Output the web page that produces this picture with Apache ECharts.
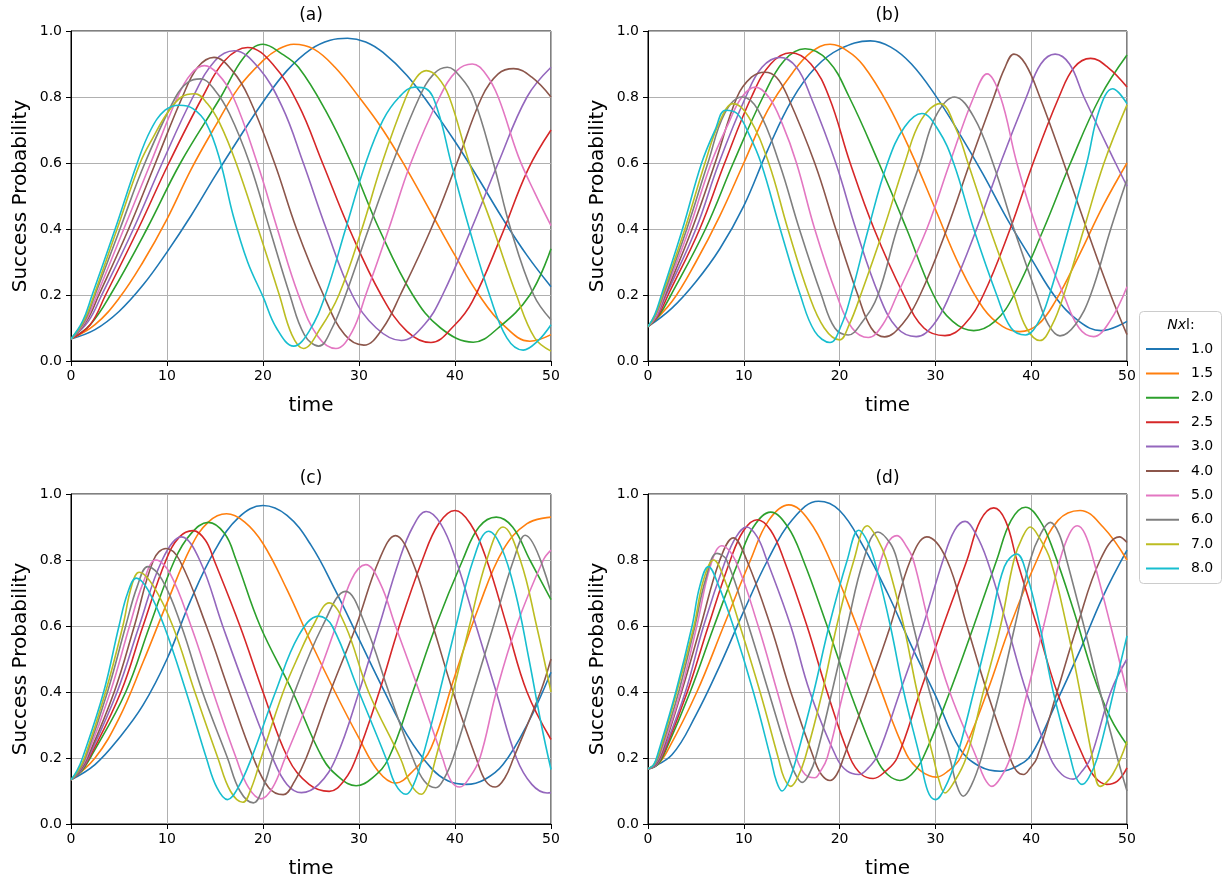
<!DOCTYPE html>
<html><head><meta charset="utf-8">
<script src="https://cdn.jsdelivr.net/npm/echarts@6/dist/echarts.min.js"></script>
<style>html,body{margin:0;padding:0;background:#fff}#c{width:1228px;height:880px}</style>
</head><body><div id="c"></div>
<script>
// ---- data ----
const seriesNames = ['1.0','1.5','2.0','2.5','3.0','4.0','5.0','6.0','7.0','8.0'];
const panelTitles = ['(a)','(b)','(c)','(d)'];
const xTickStep = 10;   // time ticks 0..50
const yTickStep = 0.2;  // probability ticks 0.0..1.0

// each entry: [time, success probability], one list per N_x l value
const panelA = [
 [[0,.067],[2.5,.095],[5,.15],[7.5,.23],[10,.33],[12.5,.44],[15,.56],[17.5,.675],[20,.785],[22.5,.88],[25,.945],[27,.972],[28.8,.978],[30.7,.967],[32.5,.935],[35,.865],[37.5,.77],[40,.665],[42.5,.55],[45,.43],[47.5,.32],[50,.225]],
 [[0,.067],[2.5,.11],[5,.19],[7.5,.3],[10,.43],[12.5,.58],[15,.71],[17.5,.83],[20,.91],[21.6,.945],[23.2,.96],[25.3,.945],[27.5,.89],[30,.8],[32.5,.7],[35,.58],[37.5,.45],[40,.32],[42.5,.2],[45,.11],[47.8,.06],[50,.08]],
 [[0,.067],[2,.11],[4.1,.2],[7.9,.4],[11.4,.6],[15.6,.8],[18,.92],[20,.96],[22,.93],[23.7,.89],[26.5,.76],[29.2,.6],[32.1,.4],[35.6,.2],[38.5,.1],[41.9,.057],[44.5,.1],[47.8,.2],[50,.34]],
 [[0,.067],[2,.11],[3.6,.2],[7,.4],[10.2,.6],[13.7,.8],[16,.91],[18.4,.95],[21,.9],[23.7,.776],[26.2,.6],[29,.4],[32.3,.2],[35,.09],[37.5,.056],[40,.11],[41.8,.18],[44.7,.37],[47.6,.58],[50,.7]],
 [[0,.067],[1.8,.12],[3.2,.2],[6.5,.4],[9.5,.6],[12.7,.8],[15,.91],[17,.94],[19.5,.89],[22,.77],[24.2,.6],[26.6,.4],[29.3,.2],[31.8,.1],[34.4,.062],[36.8,.11],[38.7,.2],[41.7,.4],[44.5,.6],[47.5,.8],[50,.89]],
 [[0,.067],[1.6,.12],[2.9,.2],[6,.4],[8.8,.6],[11.6,.8],[13.2,.89],[14.9,.92],[16.8,.88],[18.5,.8],[21.2,.6],[23.5,.4],[26.3,.2],[28.5,.08],[30.5,.048],[32.5,.1],[34.3,.2],[37.5,.4],[40.2,.6],[42.8,.8],[44.5,.87],[46.1,.886],[48,.86],[50,.8]],
 [[0,.067],[1.5,.12],[2.7,.2],[5.5,.4],[8.3,.6],[11.1,.8],[12.5,.87],[13.9,.895],[15.3,.87],[16.9,.8],[19.4,.6],[21.5,.4],[23.7,.2],[25.7,.075],[27.6,.038],[29.3,.09],[30.7,.2],[33.1,.4],[35.4,.6],[38.4,.8],[40.2,.88],[41.8,.9],[43.2,.87],[44.5,.8],[46.6,.62],[48.3,.51],[50,.41]],
 [[0,.067],[1.4,.12],[2.5,.2],[5.1,.4],[7.7,.6],[10.9,.8],[12.2,.845],[13.5,.855],[15,.82],[16.5,.75],[18.6,.6],[20.7,.4],[22.8,.2],[24.3,.08],[25.8,.045],[27.2,.1],[28.6,.2],[31,.4],[33.5,.6],[36.3,.8],[37.8,.87],[39.2,.89],[40.6,.86],[41.9,.8],[44,.6],[45.8,.4],[48.2,.2],[50,.125]],
 [[0,.067],[1.3,.12],[2.4,.2],[4.8,.4],[7.2,.6],[8.6,.68],[10,.75],[11.5,.8],[12.9,.81],[14.2,.78],[15.5,.72],[17.2,.6],[19.5,.4],[21.7,.2],[23,.08],[24.2,.038],[26,.1],[27.9,.2],[30.3,.4],[32.4,.6],[34.9,.8],[36,.86],[37,.88],[38.2,.86],[39.4,.8],[41.5,.6],[44,.4],[46.4,.2],[48.3,.07],[50,.03]],
 [[0,.067],[1.2,.12],[2.2,.2],[4.6,.4],[6.9,.6],[8.3,.7],[9.8,.76],[11.3,.775],[12.7,.765],[14.1,.72],[15.5,.61],[16.9,.44],[18.4,.3],[20,.195],[21.4,.1],[23.2,.045],[24.8,.09],[26.5,.2],[28.6,.4],[30.7,.6],[32.5,.73],[34.2,.8],[35.8,.83],[37,.825],[38.2,.76],[39.6,.6],[41.5,.4],[43.6,.2],[45.4,.07],[47.1,.033],[48.6,.06],[50,.11]]
];
const panelB = [
 [[0,.104],[2.5,.16],[5,.24],[7.5,.34],[10,.47],[12.5,.64],[15,.79],[17.5,.89],[20,.945],[23.2,.97],[25.3,.952],[27.5,.9],[30,.805],[32.5,.69],[35,.565],[37.5,.43],[40,.31],[42.5,.195],[45,.12],[47.3,.092],[50,.12]],
 [[0,.104],[2.5,.18],[5,.3],[7.5,.44],[10,.6],[12.5,.76],[15,.87],[17,.935],[19,.96],[20.8,.94],[22.5,.895],[25,.78],[27.5,.63],[30,.46],[32.5,.29],[35,.16],[37,.105],[38.8,.089],[40.7,.11],[42.5,.18],[45,.32],[47.5,.47],[50,.6]],
 [[0,.104],[1.2,.14],[2.4,.2],[6,.4],[8.9,.6],[12,.8],[14.2,.91],[16.4,.946],[18.8,.91],[21,.8],[24.1,.6],[27,.4],[29.8,.2],[31.8,.12],[34,.092],[36.2,.12],[38.2,.2],[41.3,.4],[44.1,.6],[47.2,.8],[50,.927]],
 [[0,.104],[1.1,.14],[2.1,.2],[5.4,.4],[8,.6],[10.8,.8],[12.8,.9],[14.9,.934],[17,.9],[18.9,.8],[21.1,.6],[23.6,.4],[26.7,.2],[28.8,.1],[31,.077],[33,.11],[35,.2],[37.8,.4],[40.2,.6],[42.9,.8],[44.5,.89],[46.2,.917],[48,.89],[50,.83]],
 [[0,.104],[1,.14],[1.9,.2],[5,.4],[7.4,.6],[10.2,.8],[11.9,.89],[13.8,.92],[15.5,.89],[17,.8],[19.6,.6],[21.7,.4],[24.1,.2],[26,.1],[28,.074],[29.8,.11],[31.5,.2],[34.3,.4],[36.8,.6],[39.5,.8],[41,.9],[42.5,.93],[44,.9],[45.5,.8],[48.8,.6],[50,.53]],
 [[0,.104],[0.9,.14],[1.8,.2],[4.6,.4],[7,.6],[9.3,.8],[10.8,.86],[12.2,.875],[13.4,.86],[14.6,.8],[17.4,.6],[19.6,.4],[21.9,.2],[23.3,.1],[24.7,.073],[26.5,.11],[28.4,.2],[31.2,.4],[33.6,.6],[36.1,.8],[37.2,.885],[38.2,.93],[39.4,.9],[40.9,.8],[43.4,.6],[45.8,.4],[48.3,.2],[50,.08]],
 [[0,.104],[0.9,.14],[1.7,.2],[4.3,.4],[6.6,.6],[8.4,.72],[9.8,.8],[11.2,.83],[12.6,.8],[14,.72],[15.5,.6],[17.4,.4],[19.7,.2],[21.3,.1],[23,.071],[24.5,.11],[26,.2],[29.1,.4],[31.5,.6],[34,.8],[35.4,.87],[36.8,.8],[38.5,.6],[40.6,.4],[43.4,.2],[45,.1],[46.5,.074],[48.2,.12],[50,.225]],
 [[0,.104],[0.8,.14],[1.6,.2],[4.05,.4],[6.25,.6],[8,.75],[9.8,.8],[11.5,.76],[13.7,.6],[15.8,.4],[18.1,.2],[19.5,.1],[20.9,.079],[22.4,.12],[24,.2],[26,.4],[28.4,.6],[30,.74],[32,.8],[34,.74],[36,.6],[38.2,.4],[40.6,.2],[41.8,.11],[43,.076],[44.6,.11],[46.2,.2],[48.3,.4],[50,.55]],
 [[0,.104],[0.75,.14],[1.5,.2],[3.85,.4],[5.95,.6],[7.4,.72],[8.9,.78],[10.5,.74],[12.6,.6],[14.6,.4],[16.8,.2],[18.4,.1],[20,.064],[21,.11],[22.2,.2],[24.6,.4],[26.8,.6],[28.5,.73],[30.5,.78],[32.2,.7],[33.4,.6],[35.7,.4],[38.2,.2],[39.5,.1],[40.9,.062],[42.2,.11],[43.4,.2],[45.5,.4],[47.6,.6],[50,.776]],
 [[0,.104],[0.7,.14],[1.4,.2],[3.6,.4],[5.6,.6],[7,.7],[8.1,.76],[9.3,.75],[10.5,.69],[11.8,.6],[13.8,.4],[15.9,.2],[17.4,.09],[19,.056],[20.2,.11],[21.2,.2],[23,.4],[25,.6],[26.8,.71],[28.6,.75],[30.3,.7],[31.9,.6],[34,.4],[36.4,.2],[37.9,.1],[39.4,.079],[40.8,.12],[41.9,.2],[43.9,.4],[45.8,.6],[47.1,.76],[48.5,.825],[50,.78]]
];
const panelC = [
 [[0,.134],[2.5,.18],[5,.26],[7.5,.36],[10,.5],[12.5,.68],[15,.83],[17.5,.93],[20,.965],[22.5,.935],[25,.845],[27.5,.71],[30,.56],[32.5,.41],[35,.27],[37.5,.17],[39.3,.13],[41.2,.12],[43.1,.135],[45,.18],[47.5,.3],[50,.46]],
 [[0,.134],[2.5,.2],[5,.32],[7.5,.49],[10,.67],[12.5,.84],[14.3,.915],[16.2,.94],[18.1,.915],[20,.85],[22.5,.71],[25,.55],[27.5,.4],[30,.26],[32,.16],[33.8,.124],[35.6,.16],[37.5,.23],[40,.45],[42.5,.66],[45,.83],[47.5,.91],[50,.93]],
 [[0,.134],[1.1,.16],[2,.2],[5.7,.4],[8.2,.6],[10.8,.8],[12.5,.88],[14.3,.914],[16,.88],[17.2,.8],[19.7,.6],[23.1,.4],[26.2,.2],[28,.14],[29.7,.116],[31.4,.14],[33.1,.2],[35.6,.4],[38,.6],[40.8,.8],[42.5,.9],[44.3,.93],[46,.9],[47.8,.8],[50,.68]],
 [[0,.134],[1,.16],[1.9,.2],[5.2,.4],[7.5,.6],[9.9,.8],[11.3,.87],[12.7,.889],[14,.86],[14.9,.8],[17.6,.6],[20,.4],[22.6,.2],[24.8,.12],[26.9,.099],[28.4,.13],[29.7,.2],[32.1,.4],[34.2,.6],[36.6,.8],[38.3,.91],[40,.95],[41.6,.91],[43.3,.8],[45.4,.6],[47.5,.4],[50,.256]],
 [[0,.134],[1,.16],[1.8,.2],[4.8,.4],[7.1,.6],[9.5,.8],[11.5,.87],[13.4,.8],[15.8,.6],[18.3,.4],[21,.2],[22.5,.12],[24,.095],[25.8,.12],[27.6,.2],[30,.4],[32.1,.6],[34.2,.8],[35.6,.9],[37,.947],[38.5,.91],[40.1,.8],[42.2,.6],[44.3,.4],[46.4,.2],[48,.12],[49.6,.094],[50,.095]],
 [[0,.134],[0.9,.16],[1.7,.2],[4.5,.4],[6.6,.6],[8.6,.8],[9.9,.835],[11.3,.8],[14.1,.6],[16.5,.4],[19,.2],[20.6,.11],[22.1,.089],[23.3,.13],[24.5,.2],[27,.4],[29.7,.6],[32.1,.8],[33.8,.874],[35.5,.8],[37.7,.6],[39.8,.4],[42.2,.2],[43.2,.13],[44.2,.112],[45.2,.14],[46.1,.2],[48.9,.4],[50,.5]],
 [[0,.134],[0.8,.16],[1.6,.2],[4.1,.4],[6.1,.6],[7.5,.73],[8.85,.8],[10.3,.76],[12.5,.6],[14.8,.4],[17.2,.2],[18.5,.11],[19.8,.076],[21,.11],[22.3,.2],[25.1,.4],[27.6,.6],[29.2,.74],[30.7,.786],[32.2,.73],[33.8,.6],[36.3,.4],[38.7,.2],[39.6,.13],[40.5,.112],[41.5,.14],[42.6,.2],[44.3,.4],[46.4,.6],[49.2,.8],[50,.83]],
 [[0,.134],[0.8,.16],[1.5,.2],[3.8,.4],[5.7,.6],[6.9,.72],[8,.78],[9.5,.74],[11.5,.6],[13.7,.4],[16.3,.2],[17.6,.1],[19,.064],[20,.11],[21,.2],[23.3,.4],[26.2,.6],[28.6,.705],[30.7,.6],[33.1,.4],[35.6,.2],[36.8,.13],[38,.11],[38.9,.14],[39.8,.2],[41.9,.4],[44,.6],[46.1,.8],[47.3,.875],[50,.7]],
 [[0,.134],[0.7,.16],[1.4,.2],[3.6,.4],[5.4,.6],[6.3,.72],[7.1,.763],[8.6,.72],[10.6,.6],[12.9,.4],[15.3,.2],[16.6,.1],[17.9,.066],[18.8,.11],[19.8,.2],[22.1,.4],[23.7,.51],[25.2,.6],[26.9,.67],[28.6,.6],[31,.4],[34.3,.2],[35.4,.12],[36.5,.09],[37.2,.12],[38,.2],[39.8,.4],[41.5,.6],[43.3,.8],[45,.9],[46.8,.8],[48.5,.6],[50,.4]],
 [[0,.134],[0.6,.16],[1.2,.2],[3.4,.4],[5,.6],[5.9,.7],[6.8,.745],[8,.71],[9.7,.6],[12,.4],[14.1,.2],[15.2,.11],[16.3,.074],[17.4,.11],[18.8,.2],[21.3,.4],[23.7,.57],[25.8,.63],[27.2,.6],[30,.4],[32.8,.2],[33.8,.12],[34.9,.09],[35.7,.12],[36.6,.2],[38.4,.4],[40.1,.6],[41.9,.8],[43.5,.887],[44.8,.84],[46.3,.7],[47.7,.5],[49,.3],[50,.165]]
];
const panelD = [
 [[0,.167],[2.5,.21],[5,.33],[7.5,.48],[10,.645],[12.5,.8],[15,.92],[17.8,.978],[20,.95],[22.5,.84],[25,.7],[27.5,.54],[30,.39],[32.5,.23],[34.6,.175],[36.8,.16],[38.5,.175],[40,.21],[42.5,.36],[45,.52],[47.5,.69],[50,.83]],
 [[0,.167],[1,.18],[2,.22],[5.1,.4],[7.9,.6],[10.7,.8],[12.6,.92],[14.7,.967],[16.8,.92],[19,.8],[21.8,.6],[24,.43],[27,.21],[28.5,.16],[30.1,.142],[31.3,.16],[32.6,.2],[35.4,.4],[37.8,.6],[40.6,.8],[42.8,.92],[45.1,.95],[47.5,.9],[50,.8]],
 [[0,.167],[1,.18],[1.8,.22],[4.4,.4],[6.9,.6],[9.5,.8],[11,.9],[12.8,.945],[14.6,.9],[16.2,.8],[18.7,.6],[21.1,.4],[23.9,.195],[25,.15],[26.3,.132],[27.5,.15],[28.7,.2],[31.5,.4],[34,.6],[36.4,.8],[37.9,.92],[39.4,.96],[40.9,.92],[42.3,.83],[44.4,.65],[46.5,.45],[48.3,.32],[50,.24]],
 [[0,.167],[0.9,.18],[1.7,.22],[4.1,.4],[6.3,.6],[8.6,.8],[10,.89],[11.4,.922],[12.8,.89],[14.2,.8],[16.6,.6],[18.7,.4],[21.1,.2],[22.3,.15],[23.5,.138],[24.8,.16],[26,.2],[28.4,.4],[30.8,.6],[33.3,.8],[34.7,.92],[36.1,.958],[37.3,.92],[38.5,.8],[40.6,.6],[42.7,.4],[45.5,.2],[46.7,.14],[47.9,.12],[49,.13],[50,.17]],
 [[0,.167],[0.9,.18],[1.6,.22],[3.9,.4],[5.8,.6],[8.1,.8],[9.2,.87],[10.3,.9],[11.4,.87],[12.4,.8],[14.9,.6],[16.9,.4],[19.7,.2],[20.8,.16],[22,.15],[23,.17],[24,.21],[26.3,.4],[28.7,.6],[30.8,.8],[32,.89],[33.1,.917],[34.2,.88],[35.4,.8],[37.5,.6],[39.5,.4],[42,.2],[43.2,.15],[44.4,.136],[45.3,.16],[46.2,.2],[48.3,.4],[50,.5]],
 [[0,.167],[0.8,.18],[1.5,.22],[3.5,.4],[5.5,.6],[7.5,.8],[8.9,.867],[10.3,.8],[12.8,.6],[14.9,.4],[17.3,.2],[18.1,.15],[19,.132],[19.7,.15],[20.4,.2],[22.9,.4],[25.3,.6],[27.4,.8],[29.1,.87],[31.2,.8],[33.3,.6],[35.4,.4],[37.8,.2],[38.5,.16],[39.2,.15],[39.9,.17],[40.6,.2],[42.7,.4],[44.8,.6],[47.2,.8],[49.2,.87],[50,.853]],
 [[0,.167],[0.7,.18],[1.4,.22],[3.4,.4],[5.1,.6],[6.5,.78],[7.7,.843],[9.1,.8],[11.5,.6],[13.5,.4],[15.5,.2],[16.4,.15],[17.4,.14],[18,.16],[18.7,.2],[20.4,.4],[22.2,.6],[23.9,.76],[25,.85],[26,.874],[27,.84],[27.7,.8],[29.4,.6],[31.5,.4],[34.3,.2],[35.1,.14],[35.9,.114],[36.8,.14],[37.8,.2],[39.6,.4],[41.3,.6],[43,.8],[44,.88],[44.8,.904],[45.6,.88],[46.5,.8],[48.3,.6],[50,.4]],
 [[0,.167],[0.7,.18],[1.3,.22],[3.2,.4],[4.9,.6],[6,.74],[7.2,.82],[8.2,.8],[10.5,.6],[12.6,.4],[14.7,.2],[15.4,.15],[16.1,.126],[16.8,.15],[17.5,.2],[19.2,.4],[20.8,.6],[22.5,.8],[24,.885],[25.3,.85],[26,.8],[27.7,.6],[29.4,.4],[31.5,.2],[32.2,.12],[32.9,.084],[33.8,.12],[34.8,.2],[36.7,.4],[38.3,.6],[39.9,.8],[41,.88],[42,.914],[42.9,.88],[43.7,.8],[45.5,.6],[47.2,.4],[49,.2],[50,.1]],
 [[0,.167],[0.6,.18],[1.2,.22],[3,.4],[4.8,.6],[5.8,.74],[6.85,.8],[8,.74],[9.6,.6],[11.7,.4],[13.6,.2],[14.2,.14],[14.9,.114],[15.6,.14],[16.4,.2],[18.2,.4],[19.7,.6],[21.5,.8],[22.9,.904],[23.9,.867],[24.9,.8],[26.7,.6],[28.1,.4],[29.8,.2],[30.4,.13],[31,.094],[31.8,.12],[33.2,.2],[35,.4],[36.8,.6],[38.2,.8],[39.1,.87],[39.9,.9],[40.8,.87],[42,.8],[43.7,.6],[45.1,.4],[46.4,.2],[47.2,.114],[48.5,.15],[50,.25]],
 [[0,.167],[0.6,.18],[1.1,.22],[2.9,.4],[4.6,.6],[5.4,.72],[6.3,.78],[7.4,.72],[8.9,.6],[11,.4],[12.8,.2],[13.4,.13],[14,.1],[14.7,.13],[15.5,.2],[17.3,.4],[18.9,.6],[20.8,.8],[22,.89],[23,.85],[23.9,.77],[25.3,.6],[26.7,.4],[28.4,.2],[29.2,.1],[30,.074],[31,.11],[32.2,.2],[34,.4],[35.7,.6],[37.2,.78],[38.5,.818],[39.5,.76],[40.9,.6],[42.3,.4],[44.1,.2],[44.7,.14],[45.3,.12],[46,.14],[46.9,.2],[48.6,.4],[50,.57]]
];

// ---- styling / layout ----
const palette = ['#1f77b4','#ff7f0e','#2ca02c','#d62728','#9467bd','#8c564b','#e377c2','#7f7f7f','#bcbd22','#17becf'];
const FONT = 'DejaVu Sans';
const gridBoxes = [
  {left:71, top:31, width:480, height:330},
  {left:648, top:31, width:479, height:330},
  {left:71, top:494, width:480, height:330},
  {left:648, top:494, width:479, height:330}
];
const allPanels = [panelA, panelB, panelC, panelD];

const grids = [], xAxes = [], yAxes = [], series = [], graphics = [];
gridBoxes.forEach((g, p) => {
  grids.push(Object.assign({show:true, borderColor:'#000', borderWidth:1, backgroundColor:'transparent', containLabel:false, outerBoundsMode:'none'}, g));
  xAxes.push({
    type:'value', gridIndex:p, min:0, max:50, interval:xTickStep,
    name:'time', nameLocation:'middle', nameGap:35,
    nameTextStyle:{fontFamily:FONT, fontSize:20, color:'#000'},
    axisLine:{show:true, onZero:false, lineStyle:{color:'#000', width:1}},
    axisTick:{show:true, length:5, lineStyle:{color:'#000', width:1}},
    axisLabel:{show:true, fontFamily:FONT, fontSize:14, color:'#000', margin:8, showMinLabel:true, showMaxLabel:true},
    splitLine:{show:true, lineStyle:{color:'#b0b0b0', width:1}}
  });
  yAxes.push({
    type:'value', gridIndex:p, min:0, max:1, interval:yTickStep,
    name:'Success Probability', nameLocation:'middle', nameGap:40,
    nameTextStyle:{fontFamily:FONT, fontSize:20, color:'#000'},
    axisLine:{show:true, onZero:false, lineStyle:{color:'#000', width:1}},
    axisTick:{show:true, length:5, lineStyle:{color:'#000', width:1}},
    axisLabel:{show:true, fontFamily:FONT, fontSize:14, color:'#000', margin:9, showMinLabel:true, showMaxLabel:true,
      formatter: v => v.toFixed(1)},
    splitLine:{show:true, lineStyle:{color:'#b0b0b0', width:1}}
  });
  allPanels[p].forEach((pts, i) => {
    series.push({
      type:'line', name:seriesNames[i], xAxisIndex:p, yAxisIndex:p,
      data:pts, showSymbol:false, symbol:'none', smooth:0.4,
      color:palette[i], lineStyle:{color:palette[i], width:1.6},
      emphasis:{disabled:true}, z:2
    });
  });
  graphics.push({type:'text', x:g.left + g.width/2, y:g.top - 15, z:10,
    style:{text:panelTitles[p], fontFamily:FONT, fontSize:17, fill:'#000', textAlign:'center', textVerticalAlign:'middle'}});
});

// legend frame + title
graphics.push({type:'rect', shape:{x:1139.5, y:311.5, width:82, height:272, r:4}, z:0,
  style:{fill:'#ffffff', stroke:'#cccccc', lineWidth:1}});
graphics.push({type:'text', x:1181, y:325, z:10,
  style:{text:'{i|Nx}l:', fontFamily:FONT, fontSize:14, fill:'#000', textAlign:'center', textVerticalAlign:'middle',
    rich:{i:{fontFamily:FONT, fontSize:14, fontStyle:'italic', fill:'#000'}}}});

const chart = echarts.init(document.getElementById('c'), null, {renderer:'canvas'});
chart.setOption({
  animation:false,
  backgroundColor:'#fff',
  color:palette,
  grid:grids, xAxis:xAxes, yAxis:yAxes, series:series,
  legend:{
    show:true, orient:'vertical', left:1146, top:341, z:20,
    data:seriesNames, icon:'rect', itemWidth:33, itemHeight:2, itemGap:8.4,
    textStyle:{fontFamily:FONT, fontSize:14, color:'#000', lineHeight:16, padding:[0,0,0,7]},
    selectedMode:false, backgroundColor:'transparent', padding:0
  },
  graphic:{elements:graphics}
});
</script>
</body></html>
